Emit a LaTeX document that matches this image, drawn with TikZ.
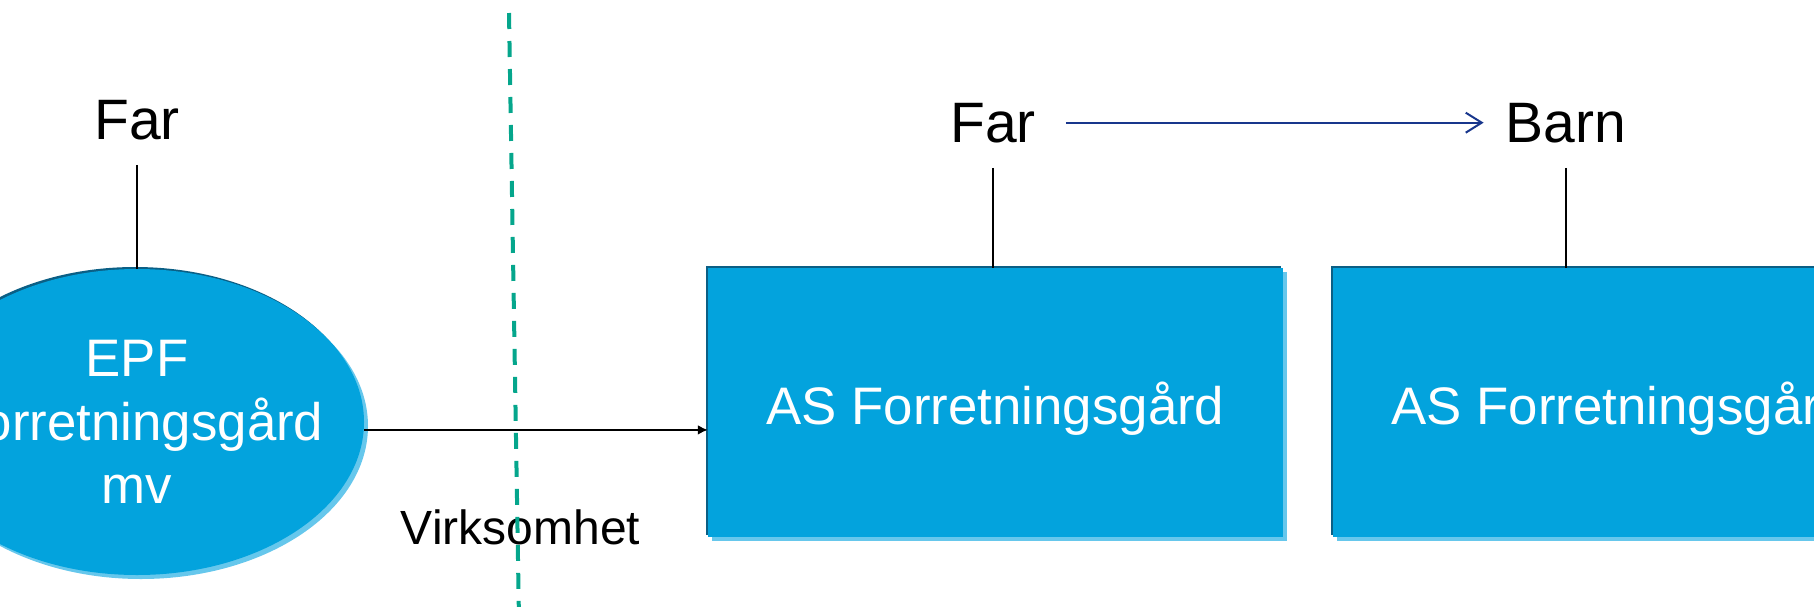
\documentclass[tikz,border=0pt]{standalone}
\usepackage{fontspec}
\setmainfont{Liberation Sans}
\usetikzlibrary{shapes.geometric,shadows,arrows.meta}

\definecolor{boxblue}{RGB}{3,163,221}
\definecolor{boxdark}{RGB}{11,95,133}
\definecolor{boxlight}{RGB}{102,199,236}
\definecolor{divteal}{RGB}{5,166,140}
\definecolor{linknavy}{RGB}{24,54,140}

\begin{document}
\begin{tikzpicture}[x=1pt,y=-1pt,
  bluebody/.style={fill=boxblue, draw=none, inner sep=0pt,
    general shadow={fill=boxlight, shadow xshift=4pt, shadow yshift=-4pt},
    general shadow={fill=boxdark, shadow xshift=-2pt, shadow yshift=2pt}},
  boxtext/.style={text=white, inner sep=0pt, font=\fontsize{52.8}{63.5}\selectfont},
  toplabel/.style={text=black, inner xsep=30pt, inner ysep=25pt, font=\fontsize{57}{68}\selectfont},
  stem/.style={draw=black, line width=2pt},
  flow/.style={draw=black, line width=2pt, -{Latex[length=10pt,width=10pt]}},
  transfer/.style={draw=linknavy, line width=2pt, -{Straight Barb[length=16pt,width=20pt,line width=2pt]}},
  divider/.style={draw=divteal, line width=4pt, dash pattern=on 16pt off 12pt}]

\clip (0,0) rectangle (1814,606);

% owner and company shapes
\node[bluebody, ellipse, minimum width=454pt, minimum height=306pt] (epf) at (137,422) {};
\node[boxtext, align=center] (epftext) at (epf.center) {EPF\\Forretningsgård\\mv};

\node[bluebody, rectangle, minimum width=575pt, minimum height=269pt] (as1) at (995.5,402.5) {};
\node[boxtext, anchor=base] (as1text) at ([yshift=-21.5pt]as1.center) {AS Forretningsgård};

\node[bluebody, rectangle, minimum width=575pt, minimum height=269pt] (as2) at (1620.5,402.5) {};
\node[boxtext, anchor=base] (as2text) at ([yshift=-21.5pt]as2.center) {AS Forretningsgård};

% owner labels
\node[toplabel, anchor=base] (far1) at (137,139) {Far};
\node[toplabel, anchor=base] (far2) at (993,142) {Far};
\node[toplabel, inner xsep=22pt, anchor=base] (barn) at (1566,142) {Barn};

\node[text=black, inner sep=0pt, font=\fontsize{48}{58}\selectfont, anchor=base] (virk) at (520.5,544) {Virksomhet};

% ownership lines
\draw[stem] (far1.south) -- (far1.south |- epf.north);
\draw[stem] (far2.south) -- (far2.south |- as1.north);
\draw[stem] (barn.south) -- (barn.south |- as2.north);

% transfers
\draw[flow] (epf.-2.5) -- (epf.-2.5 -| as1.west);
\draw[transfer] (far2.east) -- (barn.west);

% dividing line
\coordinate (divtop) at (509,13);
\coordinate (divbot) at (519,620);
\draw[divider] (divtop) -- (divbot);
\end{tikzpicture}
\end{document}
